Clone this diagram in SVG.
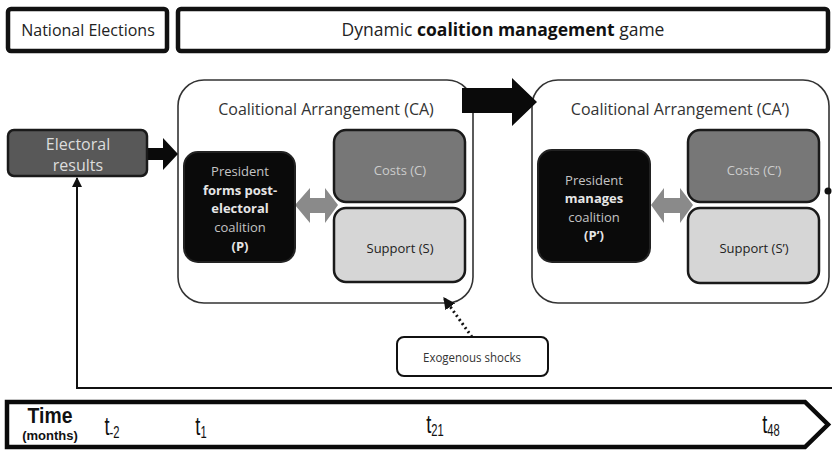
<svg xmlns="http://www.w3.org/2000/svg" width="832" height="450" viewBox="0 0 832 450">
<defs>
<style>
text{font-family:"Open Sans",Lato,"Liberation Sans",sans-serif;text-anchor:middle}
.hdr{fill:#fff;stroke:#111;stroke-width:4.5}
.ca{fill:#fff;stroke:#333;stroke-width:1.6}
.pres{fill:#0a0a0a;stroke:#222;stroke-width:2}
.cost{fill:#777;stroke:#1a1a1a;stroke-width:2.5}
.sup{fill:#d6d6d6;stroke:#1a1a1a;stroke-width:2.5}
.elec{fill:#585858;stroke:#1a1a1a;stroke-width:2.5}
.ptxt{fill:#c4c4c4;font-size:13px}
.b{font-weight:bold;fill:#e6e6e6}
.tl{font-family:"Liberation Sans",Arial,sans-serif;fill:#111}
</style>
<marker id="ah" viewBox="0 0 10 10" refX="9" refY="5" markerWidth="10" markerHeight="10" markerUnits="userSpaceOnUse" orient="auto">
<path d="M0,0 L10,5 L0,10 Z" fill="#111"/>
</marker>
<marker id="ah2" viewBox="0 0 10 10" refX="9" refY="5" markerWidth="12" markerHeight="12" markerUnits="userSpaceOnUse" orient="auto">
<path d="M0,0 L10,5 L0,10 Z" fill="#111"/>
</marker>
</defs>
<rect width="832" height="450" fill="#fff"/>

<g id="national-elections">
<rect class="hdr" x="8" y="9" width="159" height="42" rx="3"/>
<text x="88" y="36" font-size="16" fill="#222">National Elections</text>
</g>
<g id="dynamic-game">
<rect class="hdr" x="178" y="9" width="650" height="42" rx="3"/>
<text x="503" y="36" font-size="17.5" fill="#222">Dynamic <tspan font-weight="bold" fill="#111">coalition management</tspan> game</text>
</g>

<g id="ca">
<rect class="ca" x="178" y="80" width="295" height="223" rx="26"/>
<text x="326" y="115" font-size="16" fill="#333">Coalitional Arrangement (CA)</text>
</g>
<g id="ca-prime">
<rect class="ca" x="532" y="80" width="297" height="223" rx="26"/>
<text x="680" y="115" font-size="16" fill="#333">Coalitional Arrangement (CA’)</text>
</g>

<g id="connectors">
<path d="M147,148 L163,148 L163,138 L178,154 L163,170 L163,160 L147,160 Z" fill="#0a0a0a"/>
<path d="M462,88 L512,88 L512,78 L537,102 L512,126 L512,113 L462,113 Z" fill="#0a0a0a"/>
<path d="M295,205 L310,188 L310,198 L325,198 L325,188 L338,205 L325,223 L325,213 L310,213 L310,223 Z" fill="#8a8a8a"/>
<path d="M651,205 L664,188 L664,198 L680,198 L680,188 L693,205 L680,223 L680,213 L664,213 L664,223 Z" fill="#8a8a8a"/>
<polyline points="832,388 77,388 77,178" fill="none" stroke="#111" stroke-width="2" marker-end="url(#ah)"/>
<line x1="472" y1="337" x2="444" y2="298" stroke="#111" stroke-width="3" stroke-dasharray="2,3" marker-end="url(#ah2)"/>
<circle cx="828" cy="191" r="3.5" fill="#111"/>
</g>

<g id="electoral-results">
<rect class="elec" x="8" y="130" width="139" height="46" rx="6"/>
<text x="78" y="150" font-size="16" fill="#ddd">Electoral</text>
<text x="78" y="171" font-size="16" fill="#ddd">results</text>
</g>

<g id="president">
<rect class="pres" x="184" y="152" width="111" height="110" rx="14"/>
<text class="ptxt" x="240" y="176">President</text>
<text class="ptxt b" x="240" y="195">forms post-</text>
<text class="ptxt b" x="240" y="213">electoral</text>
<text class="ptxt" x="240" y="232">coalition</text>
<text class="ptxt b" x="240" y="251">(P)</text>
</g>
<g id="costs">
<rect class="cost" x="334" y="130" width="131" height="72" rx="12"/>
<text x="400" y="175" font-size="13" fill="#ccc">Costs (C)</text>
</g>
<g id="support">
<rect class="sup" x="334" y="208" width="131" height="74" rx="12"/>
<text x="400" y="253" font-size="13" fill="#222">Support (S)</text>
</g>

<g id="president-prime">
<rect class="pres" x="538" y="150" width="112" height="112" rx="14"/>
<text class="ptxt" x="594" y="185">President</text>
<text class="ptxt b" x="594" y="203">manages</text>
<text class="ptxt" x="594" y="222">coalition</text>
<text class="ptxt b" x="594" y="240">(P’)</text>
</g>
<g id="costs-prime">
<rect class="cost" x="688" y="130" width="131" height="72" rx="12"/>
<text x="754" y="175" font-size="13" fill="#ccc">Costs (C’)</text>
</g>
<g id="support-prime">
<rect class="sup" x="688" y="208" width="131" height="75" rx="12"/>
<text x="754" y="253" font-size="13" fill="#222">Support (S’)</text>
</g>

<g id="exogenous-shocks">
<rect x="397" y="337" width="151" height="39" rx="7" fill="#fff" stroke="#111" stroke-width="2"/>
<text x="472" y="362" font-size="12" fill="#333" textLength="98" lengthAdjust="spacingAndGlyphs">Exogenous shocks</text>
</g>

<g id="timeline">
<path d="M7,402 L805,402 L828,424.5 L805,447 L7,447 Z" fill="#fff" stroke="#0a0a0a" stroke-width="4.5" stroke-linejoin="miter"/>
<text class="tl" x="50" y="423" font-size="22" font-weight="bold" transform="translate(50 0) scale(0.88 1) translate(-50 0)">Time</text>
<text class="tl" x="50" y="440" font-size="13" font-weight="bold">(months)</text>
<text class="tl" x="112" y="435" font-size="26" transform="translate(112 0) scale(0.7 1) translate(-112 0)" text-anchor="start">t<tspan font-size="16" dy="3">-2</tspan></text>
<text class="tl" x="201" y="435" font-size="26" transform="translate(201 0) scale(0.7 1) translate(-201 0)" text-anchor="start">t<tspan font-size="16" dy="3">1</tspan></text>
<text class="tl" x="435" y="433" font-size="26" transform="translate(435 0) scale(0.7 1) translate(-435 0)" text-anchor="start">t<tspan font-size="16" dy="3">21</tspan></text>
<text class="tl" x="771" y="433" font-size="26" transform="translate(771 0) scale(0.7 1) translate(-771 0)" text-anchor="start">t<tspan font-size="16" dy="3">48</tspan></text>
</g>
</svg>
